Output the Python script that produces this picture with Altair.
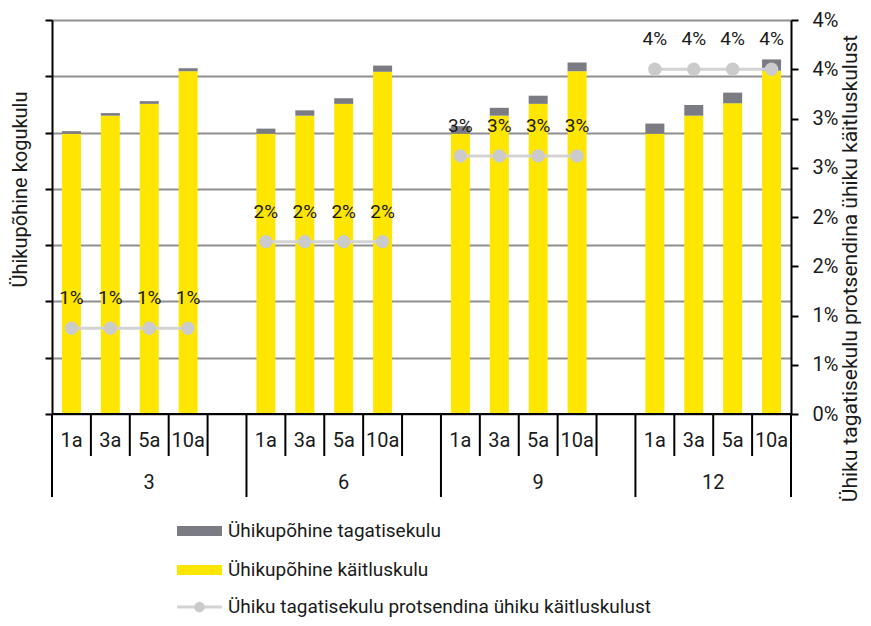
import altair as alt
import pandas as pd

# ---- data ----
groups = ["3", "6", "9", "12"]
terms = ["1a", "3a", "5a", "10a"]
handling_3 = [4.98, 5.30, 5.51, 6.09]
handling_6 = [4.98, 5.30, 5.51, 6.08]
handling_9 = [4.98, 5.30, 5.51, 6.09]
handling_12 = [4.98, 5.30, 5.52, 6.10]
guarantee_3 = [0.045, 0.046, 0.048, 0.053]
guarantee_6 = [0.090, 0.095, 0.100, 0.110]
guarantee_9 = [0.135, 0.140, 0.145, 0.155]
guarantee_12 = [0.180, 0.190, 0.190, 0.200]
pct = [0.87, 1.75, 2.62, 3.50]
pct_labels = ["1%", "2%", "3%", "4%"]
left_ticks = [0, 1, 2, 3, 4, 5, 6, 7]
right_ticks = [0, 0.5, 1, 1.5, 2, 2.5, 3, 3.5, 4]
legend_labels = [
    "Ühikupõhine tagatisekulu",
    "Ühikupõhine käitluskulu",
    "Ühiku tagatisekulu protsendina ühiku käitluskulust",
]
left_title = "Ühikupõhine kogukulu"
right_title = "Ühiku tagatisekulu protsendina ühiku käitluskulust"

handling = [handling_3, handling_6, handling_9, handling_12]
guarantee = [guarantee_3, guarantee_6, guarantee_9, guarantee_12]

# ---- tables ----
SLOTS_PER_GROUP = 5
N_SLOTS = SLOTS_PER_GROUP * len(groups) - 1
rows = []
for g, grp in enumerate(groups):
    for j, t in enumerate(terms):
        slot = g * SLOTS_PER_GROUP + j
        rows.append({
            "group": grp, "term": t, "pos": slot + 0.5,
            "handling": handling[g][j],
            "total": handling[g][j] + guarantee[g][j],
            "pct": pct[g], "pct_label": pct_labels[g],
        })
df = pd.DataFrame(rows)

long_b, short_b, grp_rows = [], [], []
for g, grp in enumerate(groups):
    start = g * SLOTS_PER_GROUP
    end = min(start + SLOTS_PER_GROUP, N_SLOTS)
    long_b.append(start)
    for k in range(1, len(terms) + 1):
        b = start + k
        if b < N_SLOTS:
            short_b.append(b)
    grp_rows.append({"group": grp, "pos": (start + end) / 2})
long_b.append(N_SLOTS)
df_long = pd.DataFrame({"b": long_b})
df_short = pd.DataFrame({"b": short_b})
df_grp = pd.DataFrame(grp_rows)
df_axis = pd.DataFrame({"x0": [0], "x1": [N_SLOTS]})

W, H = 739, 394
FONT = "Roboto"
TXT = "#1a1a1a"
YELLOW = "#FFE600"
GREY = "#7b7b83"

xs = alt.Scale(domain=[0, N_SLOTS], nice=False, zero=False, padding=0)


def X(f):
    return alt.X(f, scale=xs, axis=None)


ls = alt.Scale(domain=[0, 7], nice=False)
rs = alt.Scale(domain=[0, 4], nice=False)

base = alt.Chart(df)

yellow = base.mark_bar(size=19, color=YELLOW).encode(
    x=X("pos:Q"),
    y=alt.Y("handling:Q", scale=ls, axis=alt.Axis(
        values=left_ticks, labels=False, tickSize=7, tickColor="black", tickWidth=2,
        domainColor="black", domainWidth=2, grid=True, gridColor="#8f8f8f", gridWidth=2,
        title=left_title, titleAngle=270, titleX=-32, titleY=169, titleAlign="center",
        titleBaseline="middle", titleFont=FONT, titleFontSize=20, titleFontWeight="normal",
        titleColor=TXT)),
)
grey = base.mark_bar(size=19, color=GREY).encode(
    x=X("pos:Q"), y=alt.Y("handling:Q", scale=ls, axis=None), y2="total:Q"
)

line = base.mark_line(color="#d3d3d3", strokeWidth=3).encode(
    x=X("pos:Q"),
    y=alt.Y("pct:Q", scale=rs, axis=alt.Axis(
        orient="right", values=right_ticks, labelExpr="round(datum.value) + '%'",
        tickSize=7, tickColor="black", tickWidth=2, domainColor="black", domainWidth=2,
        grid=False, labelFont=FONT, labelFontSize=20, labelColor=TXT, labelPadding=14,
        title=right_title, titleAngle=270, titleX=59, titleY=248, titleAlign="center",
        titleBaseline="middle", titleFont=FONT, titleFontSize=21, titleFontWeight="normal",
        titleColor=TXT)),
    detail="group:N",
)
points = base.mark_circle(size=180, color="#cbcbcb", opacity=1).encode(
    x=X("pos:Q"), y=alt.Y("pct:Q", scale=rs, axis=None)
)
labels = base.mark_text(font=FONT, fontSize=19, color=TXT, dy=-30, baseline="middle").encode(
    x=X("pos:Q"), y=alt.Y("pct:Q", scale=rs, axis=None), text="pct_label:N"
)

# x-axis decorations
axis_line = alt.Chart(df_axis).mark_rule(color="black", strokeWidth=2).encode(
    x=X("x0:Q"), x2="x1:Q", y=alt.value(H)
)
sep_short = alt.Chart(df_short).mark_rule(color="black", strokeWidth=2).encode(
    x=X("b:Q"), y=alt.value(H), y2=alt.value(H + 42)
)
sep_long = alt.Chart(df_long).mark_rule(color="black", strokeWidth=2).encode(
    x=X("b:Q"), y=alt.value(H), y2=alt.value(H + 83)
)
term_text = base.mark_text(font=FONT, fontSize=20, color=TXT, baseline="middle").encode(
    x=X("pos:Q"), y=alt.value(H + 27), text="term:N"
)
group_text = alt.Chart(df_grp).mark_text(font=FONT, fontSize=20, color=TXT, baseline="middle").encode(
    x=X("pos:Q"), y=alt.value(H + 69), text="group:N"
)

# legend (manual)
LX0, LX1 = 125, 170
leg_rows = [511, 550, 587]
one = pd.DataFrame({"a": [0]})
leg_grey = alt.Chart(one).mark_rect(color=GREY).encode(
    x=alt.value(LX0), x2=alt.value(LX1), y=alt.value(leg_rows[0] - 5), y2=alt.value(leg_rows[0] + 5)
)
leg_yellow = alt.Chart(one).mark_rect(color=YELLOW).encode(
    x=alt.value(LX0), x2=alt.value(LX1), y=alt.value(leg_rows[1] - 5), y2=alt.value(leg_rows[1] + 5)
)
leg_line = alt.Chart(one).mark_rule(color="#d3d3d3", strokeWidth=3).encode(
    x=alt.value(LX0), x2=alt.value(LX1), y=alt.value(leg_rows[2])
)
leg_dot = alt.Chart(one).mark_circle(size=110, color="#cbcbcb", opacity=1).encode(
    x=alt.value((LX0 + LX1) / 2), y=alt.value(leg_rows[2])
)
leg_texts = [
    alt.Chart(pd.DataFrame({"label": [legend_labels[i]]})).mark_text(
        font=FONT, fontSize=19, color=TXT, align="left", baseline="middle"
    ).encode(x=alt.value(LX1 + 6), y=alt.value(leg_rows[i]), text="label:N")
    for i in range(3)
]

chart = alt.layer(
    yellow, grey, line, points, labels, axis_line, sep_short, sep_long, term_text, group_text,
    leg_grey, leg_yellow, leg_line, leg_dot, *leg_texts
).resolve_scale(y="independent").properties(
    width=W, height=H,
    autosize=alt.AutoSizeParams(type="none"),
    padding={"left": 44, "top": 12, "right": 72, "bottom": 204},
).configure_view(stroke=None)

chart.save("out.html", embed_options={"renderer": "svg", "actions": False})
